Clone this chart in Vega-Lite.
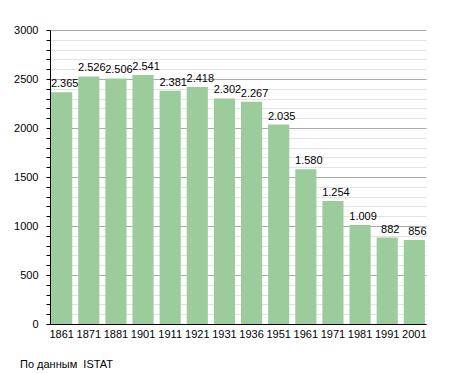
{
  "$schema": "https://vega.github.io/schema/vega-lite/v6.json",
  "autosize": "none",
  "width": 376,
  "height": 294,
  "padding": {"left": 50, "top": 30, "right": 29, "bottom": 49},
  "background": "white",
  "data": {
    "values": [
      {"year": "1861", "pop": 2365},
      {"year": "1871", "pop": 2526},
      {"year": "1881", "pop": 2506},
      {"year": "1901", "pop": 2541},
      {"year": "1911", "pop": 2381},
      {"year": "1921", "pop": 2418},
      {"year": "1931", "pop": 2302},
      {"year": "1936", "pop": 2267},
      {"year": "1951", "pop": 2035},
      {"year": "1961", "pop": 1580},
      {"year": "1971", "pop": 1254},
      {"year": "1981", "pop": 1009},
      {"year": "1991", "pop": 882},
      {"year": "2001", "pop": 856}
    ]
  },
  "title": {
    "text": "По данным \u00a0ISTAT",
    "orient": "bottom",
    "anchor": "start",
    "frame": "group",
    "dx": -30,
    "offset": 20,
    "fontSize": 11,
    "fontWeight": "normal",
    "font": "Liberation Sans",
    "color": "black"
  },
  "encoding": {
    "x": {
      "field": "year",
      "type": "nominal",
      "sort": null,
      "scale": {"paddingInner": 0.22, "paddingOuter": 0.04},
      "axis": {
        "title": null,
        "labelAngle": 0,
        "ticks": false,
        "domainColor": "black",
        "labelColor": "black",
        "labelFontSize": 11,
        "labelPadding": 4
      }
    },
    "y": {
      "field": "pop",
      "type": "quantitative",
      "scale": {"domain": [0, 3000], "nice": false},
      "axis": {
        "title": null,
        "values": [0,100,200,300,400,500,600,700,800,900,1000,1100,1200,1300,1400,1500,1600,1700,1800,1900,2000,2100,2200,2300,2400,2500,2600,2700,2800,2900,3000],
        "format": "d",
        "labelExpr": "datum.value % 500 === 0 ? datum.value : ''",
        "grid": true,
        "gridColor": {"condition": {"test": "datum.value % 500 === 0", "value": "#aaaaaa"}, "value": "#e3e3e3"},
        "tickColor": "black",
        "tickSize": 4,
        "domainColor": "black",
        "labelColor": "black",
        "labelFontSize": 11,
        "labelPadding": 8
      }
    }
  },
  "layer": [
    {
      "mark": {"type": "bar", "color": "#9ccc9c"}
    },
    {
      "mark": {"type": "text", "baseline": "bottom", "dy": -3, "dx": 3, "fontSize": 11, "color": "black"},
      "encoding": {
        "text": {"field": "pop", "type": "quantitative", "format": ",d"}
      }
    }
  ],
  "config": {
    "font": "Liberation Sans",
    "view": {"stroke": null},
    "locale": {
      "number": {"decimal": ",", "thousands": ".", "grouping": [3], "currency": ["", " €"]}
    }
  }
}
